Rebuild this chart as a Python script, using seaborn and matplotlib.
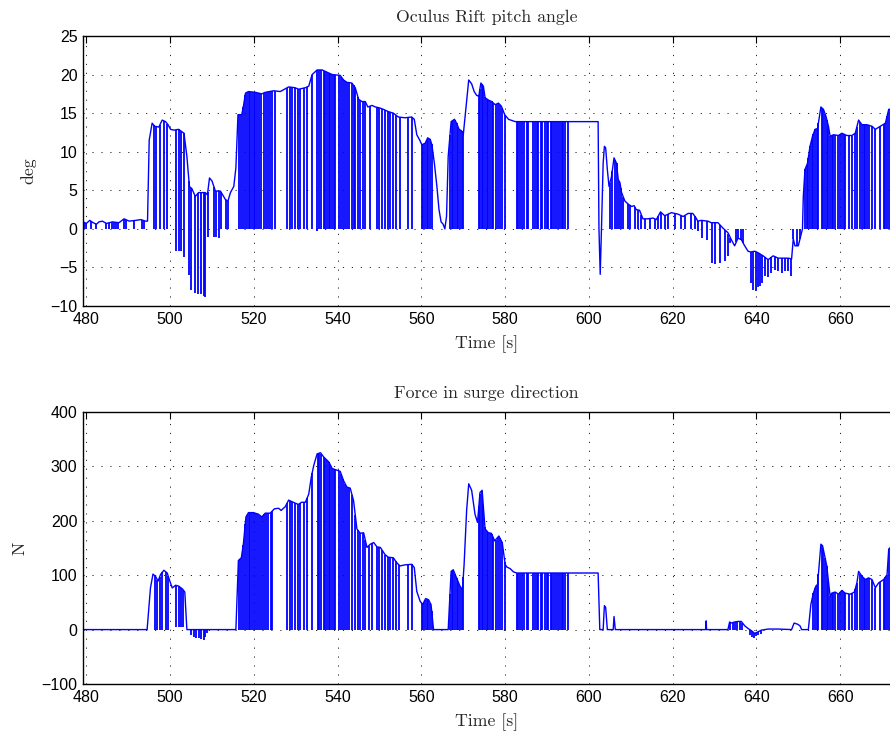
import numpy as np
import pandas as pd
import matplotlib
matplotlib.use("Agg")
import matplotlib.pyplot as plt
import seaborn as sns

# ---------------- data ----------------
# Oculus Rift pitch angle: envelope of the signal [s], [deg]
pitch_t = [479.2, 480.0, 480.8, 481.6, 482.4, 483.0, 483.8, 484.8, 486.2, 487.8, 489.0, 490.2,
           491.8, 493.0, 494.1, 494.6, 495.0, 495.7, 496.3, 497.3, 498.1, 498.9, 499.5, 500.1,
           500.9, 502.0, 503.3, 504.0, 504.6, 505.2, 506.0, 506.8, 508.4, 508.9, 509.4, 510.0,
           510.8, 512.0, 513.2, 513.8, 514.4, 515.2, 515.7, 516.2, 517.1, 517.5, 518.0, 518.7,
           520.3, 521.9, 522.7, 524.7, 526.3, 528.3, 529.8, 530.7, 532.3, 533.1, 533.9, 535.1,
           536.3, 537.5, 538.7, 540.6, 541.4, 542.2, 543.4, 544.2, 545.0, 545.8, 546.6, 547.2,
           548.2, 549.0, 549.9, 550.9, 552.1, 553.3, 554.5, 556.1, 557.7, 558.3, 558.9, 559.7,
           560.1, 560.9, 561.5, 562.1, 562.5, 563.1, 563.7, 564.2, 564.7, 565.2, 565.6, 566.0,
           566.4, 567.1, 567.9, 568.4, 569.0, 569.6, 570.0, 570.6, 571.3, 572.0, 572.6, 573.2,
           573.7, 574.2, 574.8, 575.2, 576.0, 576.8, 577.6, 578.4, 579.1, 579.9, 580.8, 582.4,
           602.2, 602.4, 602.7, 603.0, 603.4, 603.7, 604.0, 604.4, 604.8, 605.4, 606.0, 606.6,
           607.0, 607.4, 607.8, 608.6, 609.4, 610.2, 610.8, 611.3, 612.1, 612.9, 614.1, 615.3,
           616.1, 617.1, 618.1, 619.7, 621.3, 622.5, 623.7, 624.8, 625.6, 626.0, 626.8, 628.4,
           629.2, 630.8, 632.0, 633.2, 634.0, 634.8, 635.6, 636.4, 637.2, 638.0, 638.6, 639.6,
           640.4, 641.6, 642.8, 644.0, 645.2, 646.4, 647.6, 648.4, 648.8, 649.2, 650.0, 650.6,
           651.0, 651.2, 651.6, 652.2, 652.8, 653.4, 654.0, 654.6, 655.4, 656.0, 656.6, 657.2,
           657.6, 658.4, 659.6, 660.4, 661.6, 662.8, 663.6, 664.4, 665.2, 666.4, 667.6, 668.4,
           669.6, 670.8, 671.6, 672.0]
pitch_v = [0.9, 0.7, 1.1, 0.8, 0.6, 0.9, 1.0, 0.7, 0.9, 0.8, 1.3, 1.0,
           1.1, 1.2, 1.0, 1.0, 11.5, 13.7, 13.3, 13.2, 14.1, 13.9, 13.5, 12.9,
           12.8, 12.9, 12.4, 9.4, 5.5, 5.2, 4.2, 4.7, 4.7, 4.4, 6.6, 6.2,
           4.9, 4.9, 3.8, 3.6, 4.7, 5.5, 7.9, 14.8, 14.8, 15.9, 17.6, 17.8,
           17.7, 17.5, 17.7, 17.9, 17.8, 18.4, 18.3, 18.1, 18.3, 18.5, 20.0, 20.6,
           20.6, 20.3, 20.0, 19.9, 19.3, 19.0, 18.9, 18.3, 16.8, 16.5, 16.5, 15.8,
           16.0, 15.8, 15.7, 15.5, 15.2, 15.0, 14.5, 14.4, 14.5, 14.2, 12.2, 11.4,
           10.9, 11.1, 11.8, 11.6, 10.9, 8.5, 5.5, 2.5, 0.9, 0.6, 0.0, 1.6,
           9.4, 13.9, 14.2, 13.7, 12.9, 12.7, 12.2, 15.5, 19.3, 18.8, 17.8, 17.3,
           17.2, 18.9, 18.5, 17.0, 16.7, 16.5, 16.1, 16.3, 15.9, 14.8, 14.2, 13.9,
           13.9, 0.0, -5.9, 0.0, 8.5, 10.7, 10.5, 7.7, 5.5, 6.8, 9.2, 8.5,
           6.4, 6.0, 4.7, 3.6, 3.2, 2.9, 3.0, 2.5, 2.4, 1.3, 1.3, 1.4,
           1.2, 2.2, 1.7, 2.1, 1.9, 1.6, 2.0, 2.0, 1.4, 1.0, 1.1, 1.0,
           0.8, 0.8, 0.1, -0.5, -1.4, -2.2, -1.2, -1.4, -2.2, -2.9, -3.0, -2.9,
           -3.1, -3.5, -4.0, -3.5, -3.8, -3.8, -3.8, -3.9, -1.3, -2.2, -2.2, -0.9,
           0.0, 4.2, 7.7, 8.5, 10.7, 12.0, 12.9, 13.0, 15.8, 15.5, 14.6, 13.3,
           12.0, 12.2, 12.1, 12.4, 12.1, 12.1, 12.4, 14.1, 13.5, 13.5, 13.3, 12.9,
           13.3, 13.7, 15.5, 15.5]

# pitch: sample times where the signal falls to zero
pitch_zero_t = [479.44, 480.0, 481.03, 482.2, 484.76, 485.4, 486.0, 486.6, 487.0, 487.6, 489.0,
                489.4, 491.35, 493.2, 493.7, 496.1, 496.7, 497.5, 498.5, 499.3, 512.2, 513.4,
                513.8, 516.35, 516.9, 517.46, 517.94, 518.33, 518.73, 519.13, 519.52, 519.92,
                520.32, 520.71, 521.27, 521.75, 522.3, 522.86, 523.33, 523.89, 524.29, 525.08,
                527.86, 528.65, 529.21, 529.84, 530.48, 531.03, 531.9, 532.7, 533.89, 535.63,
                536.11, 536.67, 537.06, 537.46, 537.86, 538.25, 538.65, 539.05, 539.44, 540.24,
                540.87, 541.27, 541.83, 542.22, 542.62, 543.41, 543.81, 544.21, 544.84, 545.4,
                545.95, 546.59, 547.78, 549.37, 549.92, 550.56, 551.35, 551.98, 552.54, 553.33,
                553.89, 554.92, 556.9, 557.7, 560.24, 560.48, 560.87, 561.27, 561.67, 562.06,
                562.46, 566.83, 567.22, 567.62, 568.02, 568.41, 568.81, 569.21, 569.6, 570.0,
                573.73, 573.97, 574.37, 574.76, 575.16, 575.56, 575.95, 576.35, 576.75, 577.14,
                577.7, 578.33, 578.73, 579.29, 579.92, 582.78, 583.17, 583.57, 584.13, 584.6,
                585.16, 585.56, 586.75, 587.14, 587.54, 587.94, 588.57, 588.89, 589.52, 589.92,
                590.32, 590.95, 591.27, 591.75, 592.06, 592.54, 593.1, 593.49, 593.89, 594.29,
                595.08, 605.0, 605.56, 606.19, 606.59, 607.14, 607.62, 608.17, 609.37, 609.76,
                610.95, 611.75, 612.54, 613.33, 614.52, 615.71, 616.51, 617.3, 618.1, 618.89,
                620.48, 622.06, 622.86, 624.44, 625.24, 635.2, 635.6, 636.4, 636.8, 648.8,
                649.6, 650.4, 651.6, 652.0, 652.4, 652.8, 653.2, 653.6, 654.0, 654.4, 654.8,
                655.6, 656.0, 656.4, 656.8, 657.2, 657.6, 658.0, 658.4, 658.8, 659.6, 660.0,
                660.4, 660.8, 661.2, 662.0, 662.8, 663.6, 664.0, 664.8, 665.2, 665.6, 666.0,
                666.4, 666.8, 667.6, 668.4, 669.6, 670.4, 670.8, 671.2, 671.6]
# pitch: negative spikes (time, tip value)
pitch_neg_t = [501.5, 502.0, 502.5, 503.3, 504.5, 505.1, 505.9, 506.7, 507.4, 508.0, 508.4,
               509.0, 510.5, 511.0, 511.6, 535.08, 626.1, 626.9, 628.2, 629.4, 630.2, 631.4,
               632.6, 633.3, 633.8, 638.6, 639.2, 639.8, 640.4, 640.8, 641.4, 642.0, 642.8,
               643.6, 644.4, 645.2, 646.0, 646.8, 647.6, 648.2]
pitch_neg_v = [-2.9, -2.9, -2.9, -3.6, -6.0, -7.9, -8.3, -8.4, -8.5, -8.7, -8.8,
               -1.0, -1.0, -1.1, -1.2, -0.3, -0.3, -1.2, -1.5, -4.4, -4.6, -4.4,
               -4.2, -3.5, -1.8, -7.0, -7.9, -8.1, -7.6, -7.4, -7.0, -6.1, -6.3,
               -5.7, -5.3, -5.5, -5.7, -5.5, -5.5, -6.1]

# Force in surge direction: envelope [s], [N]
force_t = [479.0, 494.5, 495.3, 495.9, 496.5, 497.1, 497.7, 498.5, 499.3, 499.8, 500.5, 501.3,
           502.0, 502.9, 503.5, 504.0, 515.7, 516.3, 517.0, 517.5, 518.1, 518.7, 519.9, 521.1,
           521.9, 522.7, 523.9, 524.9, 525.9, 526.5, 527.5, 528.3, 529.4, 530.6, 531.4, 532.3,
           533.1, 533.7, 534.3, 535.1, 535.9, 536.7, 537.9, 538.7, 539.8, 540.6, 541.4, 542.2,
           543.0, 543.8, 544.6, 545.4, 546.2, 547.0, 547.8, 548.6, 549.4, 550.2, 551.3, 552.1,
           553.3, 554.1, 554.9, 556.1, 557.7, 558.3, 558.9, 559.7, 560.3, 561.0, 561.7, 562.3,
           562.9, 566.4, 567.1, 567.6, 568.4, 569.2, 569.8, 570.2, 570.8, 571.3, 572.0, 572.8,
           573.4, 574.0, 574.5, 575.2, 576.0, 576.7, 577.5, 578.5, 579.3, 580.0, 580.4, 581.2,
           582.0, 582.8, 602.2, 602.6, 603.4, 603.7, 604.0, 604.4, 605.8, 606.0, 606.3, 627.9,
           628.0, 628.1, 633.2, 633.6, 634.0, 634.8, 635.6, 636.4, 637.2, 638.0, 638.8, 639.6,
           640.4, 641.2, 642.8, 645.2, 648.4, 649.0, 649.8, 650.4, 650.8, 652.4, 653.0, 653.6,
           654.2, 654.6, 655.4, 655.8, 656.4, 656.8, 657.2, 657.6, 658.0, 658.8, 659.6, 660.4,
           661.2, 662.4, 663.4, 664.0, 664.4, 665.2, 666.0, 666.8, 667.6, 668.4, 669.2, 670.4,
           671.2, 671.6, 672.0]
force_v = [0, 0, 76.5, 102, 98, 89, 101, 109, 104, 92, 76.5, 81.5,
           80, 75, 69, 0, 0, 127, 132, 158, 207, 215, 215, 212,
           207, 214, 214, 222, 223, 219, 226, 238, 234, 230, 234, 234,
           249, 280, 302, 323, 325, 317, 308, 296, 293, 291, 274, 262,
           260, 237, 185, 177, 178, 151, 157, 160, 152, 151, 138, 133,
           132, 123, 117, 119, 120, 114, 70, 52, 46, 57, 55, 46,
           0, 0, 107, 110, 95, 80, 73, 120, 219, 268, 256, 212,
           197, 252, 256, 185, 178, 177, 163, 172, 160, 120, 115, 112,
           106, 104, 104, 0, 0, 44, 41, 0, 0, 24, 0, 0,
           16, 0, 0, 14, 12, 14, 15, 15, 7, 2, -2, -7,
           -4, -1, 1, 1, 0, 12, 10, 7, 0, 0, 46, 67,
           80, 83, 157, 154, 132, 117, 89, 61, 67, 69, 65, 72,
           67, 65, 69, 86, 107, 98, 92, 95, 92, 77, 86, 92,
           101, 148, 151]

# force: sample times where the signal falls to zero
force_zero_t = [496.35, 496.9, 497.46, 498.1, 498.9, 499.5, 516.35, 516.9, 517.46, 517.94,
                518.33, 518.73, 519.13, 519.52, 519.92, 520.5, 521.0, 521.5, 521.9, 522.5,
                523.0, 523.4, 524.0, 524.3, 527.9, 528.6, 529.2, 529.8, 530.5, 531.0, 531.9,
                532.7, 533.89, 535.2, 535.63, 536.11, 536.67, 537.06, 537.46, 537.86, 538.25,
                538.65, 539.05, 539.44, 540.24, 540.87, 541.27, 541.83, 542.22, 542.62, 543.41,
                544.21, 544.84, 545.4, 545.95, 546.59, 547.4, 548.2, 549.5, 549.92, 550.56,
                551.35, 551.98, 552.54, 553.33, 553.89, 554.7, 556.8, 557.7, 560.24, 560.48,
                560.87, 561.27, 561.67, 562.06, 562.46, 566.83, 567.22, 567.62, 568.02, 568.41,
                568.81, 569.21, 569.6, 570.0, 573.73, 573.97, 574.37, 574.76, 575.16, 575.56,
                575.95, 576.35, 576.75, 577.14, 577.7, 578.33, 578.73, 579.29, 579.92, 582.78,
                583.17, 583.57, 584.13, 584.6, 585.16, 585.56, 586.75, 587.14, 587.54, 587.94,
                588.57, 588.89, 589.52, 589.92, 590.32, 590.95, 591.27, 591.75, 592.06, 592.54,
                593.1, 593.49, 593.89, 594.29, 595.08, 633.8, 634.4, 635.0, 635.4, 636.0,
                636.6, 653.6, 654.0, 654.4, 654.8, 655.6, 656.0, 656.4, 656.8, 657.2, 657.6,
                658.0, 658.4, 658.8, 659.6, 660.0, 660.4, 660.8, 661.2, 662.0, 662.8, 663.6,
                664.0, 664.8, 665.2, 665.6, 666.0, 666.4, 666.8, 667.6, 668.4, 669.6, 670.4,
                670.8, 671.2, 671.6]
# force: spikes with a non-zero tip (time, tip value)
force_neg_t = [501.5, 502.06, 502.6, 503.1, 505.08, 505.63, 506.19, 506.83, 507.38, 508.0,
               508.4, 508.8, 638.4, 639.0, 639.4, 640.0, 640.4, 641.2]
force_neg_v = [5, 5, 5, 5, -10, -13, -15, -16, -17, -19,
               -13, -7, -10, -13, -15, -12, -10, -8]

x_ticks = [480, 500, 520, 540, 560, 580, 600, 620, 640, 660]
pitch_ticks = [-10, -5, 0, 5, 10, 15, 20, 25]
force_ticks = [-100, 0, 100, 200, 300, 400]

# ---------------- drawing ----------------
sns.set_theme(style="white")
plt.rcParams['font.family'] = ['Liberation Sans', 'DejaVu Sans']
plt.rcParams['axes.unicode_minus'] = True

BLUE = '#0000ff'
SERIF = 'cmr10'
SERIF_SIZE = 12.8

fig = plt.figure(figsize=(8.9, 7.35), dpi=100)
ax1 = fig.add_axes([0.0933, 0.5837, 0.9067, 0.3673])
ax2 = fig.add_axes([0.0933, 0.0694, 0.9067, 0.3701])


def draw(ax, env_t, env_v, zero_t, spk_t, spk_v, yticks, ylabel, title):
    df = pd.DataFrame({'t': env_t, 'v': env_v})
    sns.lineplot(data=df, x='t', y='v', ax=ax, color=BLUE, lw=1.0,
                 estimator=None, sort=False)
    zt = np.asarray(zero_t)
    ax.vlines(zt, 0, np.interp(zt, env_t, env_v), color=BLUE, lw=1.3)
    st = np.asarray(spk_t)
    ax.vlines(st, spk_v, np.interp(st, env_t, env_v), color=BLUE, lw=1.3)

    ax.set_xlim(479.2, 671.9)
    ax.set_ylim(yticks[0], yticks[-1])
    ax.set_xticks(x_ticks)
    ax.set_yticks(yticks)
    ax.grid(True, color='#222222', linestyle=(0, (1.2, 8)), linewidth=0.7)
    ax.tick_params(direction='in', top=True, right=False, length=5, width=0.8,
                   labelsize=11.5, colors='black', pad=4)
    for s in ['left', 'bottom', 'top']:
        ax.spines[s].set_visible(True)
        ax.spines[s].set_color('black')
        ax.spines[s].set_linewidth(1.0)
    ax.spines['right'].set_visible(False)
    ax.set_xlabel('Time [s]', fontfamily=SERIF, fontsize=SERIF_SIZE, labelpad=6)
    ax.set_ylabel(ylabel, fontfamily=SERIF, fontsize=SERIF_SIZE, labelpad=10)
    ax.set_title(title, fontfamily=SERIF, fontsize=SERIF_SIZE, pad=10)


draw(ax1, pitch_t, pitch_v, pitch_zero_t, pitch_neg_t, pitch_neg_v,
     pitch_ticks, 'deg', 'Oculus Rift pitch angle')
draw(ax2, force_t, force_v, force_zero_t, force_neg_t, force_neg_v,
     force_ticks, 'N', 'Force in surge direction')

fig.savefig('out.png', dpi=100)
